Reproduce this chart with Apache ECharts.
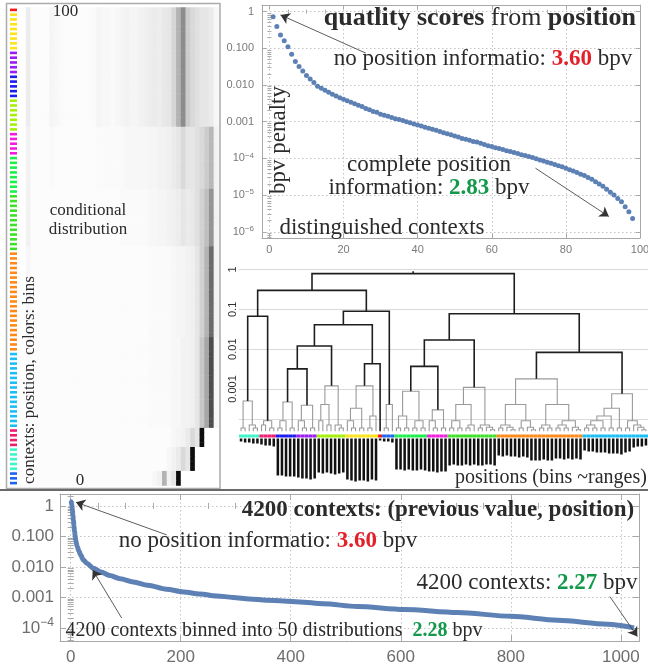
<!DOCTYPE html>
<html><head><meta charset="utf-8"><title>quality scores</title>
<script src="https://cdn.jsdelivr.net/npm/echarts@6.0.0/dist/echarts.min.js"></script>
<style>html,body{margin:0;padding:0;background:#fff;}#chart{width:648px;height:668px;}</style>
</head><body><div id="chart"></div>
<script>
// ================= DATA =================
// top-right: bpv penalty vs number of distinguished contexts (1..98)
const positionPenalty = [0.72,0.39,0.23,0.16,0.11,0.069,0.044,0.032,0.024,0.018,
 0.0145,0.0117,0.0093,0.0081,0.0072,0.0063,0.0056,0.0050,0.0045,0.0041,
 0.0037,0.0034,0.0031,0.0028,0.0026,0.0023,0.0021,0.0019,0.0018,0.0016,
 0.0015,0.0014,0.0013,0.0012,0.00115,0.00107,0.0010,0.00093,0.00087,0.00081,
 0.00076,0.00071,0.00066,0.00062,0.00058,0.00054,0.00050,0.00047,0.00044,0.00041,
 0.00038,0.00035,0.00033,0.00031,0.00029,0.00028,0.00026,0.00024,0.00022,0.00021,
 0.000195,0.000186,0.000174,0.000162,0.000155,0.000145,0.000135,0.000126,0.00012,0.000112,
 0.000105,0.000098,0.000091,0.000085,0.000079,0.000074,0.000068,0.000063,0.000059,0.000054,
 0.000049,0.000045,0.000041,0.000037,0.000034,0.000030,0.000027,0.000023,0.000020,0.0000174,
 0.0000145,0.000012,0.0000100,0.0000081,0.0000066,0.0000048,0.0000035,0.0000023];

// bottom: 4200 contexts (previous value, position) - sampled readings
const ctxCount = [1,2,3,4,5,6,7,8,9,10,12,15,18,23,30,41,55,71,90,114,140,174,205,235,265,295,325,356,386,416,459,521,606,703,800,885,976,1024];
const ctxPenalty = [1.41,1.12,0.76,0.50,0.33,0.22,0.15,0.107,0.079,0.063,0.046,0.033,0.025,0.017,0.0129,0.0091,0.0068,0.0052,0.0041,0.0032,0.0025,0.00186,0.00151,0.00129,0.00112,0.00100,0.00089,0.00081,0.00076,0.00071,0.00062,0.00050,0.00040,0.00032,0.00024,0.000178,0.000132,0.000100];

// tick labels (log10 for log panels)
const topXTicks = [0,20,40,60,80,100];
const topYTicks = [-6,-5,-4,-3,-2,-1,0];
const bottomXTicks = [0,200,400,600,800,1000];
const bottomYTicks = [-4,-3,-2,-1,0];
const dendroYTicks = [0,-1,-2,-3];
const dendroGridLines = [0,-1,-2,-3,-3.75];

// bins (colours), in order of position 100 -> 1
const binOrderByPosition = ['red','yellow','purple','blue','yellowgreen','magenta','greenA','greenB','orange','cyan','crimson','teal','blue2'];
const binSizes = [1,8,5,5,7,5,8,12,21,16,4,5,3];
const binColors = {red:'#f01a1a', yellow:'#ffe21a', purple:'#9b1cf5', blue:'#1c1cf0', yellowgreen:'#a4f00a',
  magenta:'#f51ce0', greenA:'#1cf04a', greenB:'#3ee02a', orange:'#ff8a1a', cyan:'#1cbef5',
  crimson:'#f01c6e', teal:'#3cf5c8', blue2:'#1c64f0'};

// conditional distribution (rows = positions top->bottom, 41 value columns), darkness 0..1
const heatTop  = [0.07,0.01,0.01,0.01,0.01,0.04,0.03,0.02,0.01,0.01, 0.01,0.01,0.01,0.01,0.02,0.04,0.03,0.03,0.02,0.03, 0.04,0.05,0.04,0.04,0.05,0.06,0.07,0.08,0.07,0.09, 0.10,0.16,0.30,0.45,0.20,0.15,0.12,0.10,0.10,0.08, 0.03];
const heatMid1 = [0.05,0.01,0.01,0.01,0.01,0.02,0.01,0.01,0.01,0.01, 0.01,0.01,0.01,0.01,0.01,0.02,0.02,0.02,0.02,0.02, 0.02,0.03,0.03,0.03,0.03,0.03,0.04,0.04,0.05,0.05, 0.06,0.08,0.10,0.15,0.10,0.10,0.12,0.15,0.20,0.28, 0.05];
const heatMid2 = [0.05,0.01,0.01,0.01,0.01,0.01,0.01,0.01,0.01,0.01, 0.01,0.01,0.01,0.01,0.01,0.01,0.01,0.01,0.01,0.01, 0.02,0.02,0.02,0.02,0.02,0.02,0.03,0.03,0.04,0.04, 0.05,0.06,0.07,0.10,0.08,0.09,0.12,0.18,0.25,0.42, 0.05];
const heatLow1 = [0.03,0.01,0.01,0.01,0.01,0.01,0.01,0.01,0.01,0.01, 0.01,0.01,0.01,0.01,0.01,0.01,0.01,0.01,0.01,0.01, 0.01,0.01,0.01,0.01,0.01,0.01,0.02,0.02,0.02,0.02, 0.02,0.03,0.04,0.04,0.05,0.06,0.10,0.18,0.30,0.58, 0.05];
const heatLow2 = [0.02,0.01,0.01,0.01,0.01,0.01,0.01,0.01,0.01,0.01, 0.01,0.01,0.01,0.01,0.01,0.01,0.01,0.01,0.01,0.01, 0.01,0.01,0.01,0.01,0.01,0.01,0.02,0.02,0.02,0.02, 0.02,0.03,0.03,0.05,0.05,0.06,0.10,0.22,0.35,0.70, 0.03];
const heatS1   = [0.01,0.01,0.01,0.01,0.01,0.01,0.01,0.01,0.01,0.01, 0.01,0.01,0.01,0.01,0.01,0.01,0.01,0.01,0.01,0.01, 0.01,0.01,0.01,0.01,0.01,0.01,0.01,0.01,0.01,0.01, 0.01,0.03,0.04,0.05,0.08,0.15,0.10,0.95,0,0, 0];
const heatS2   = [0.01,0.01,0.01,0.01,0.01,0.01,0.01,0.01,0.01,0.01, 0.01,0.01,0.01,0.01,0.01,0.01,0.01,0.01,0.01,0.01, 0.01,0.01,0.01,0.01,0.01,0.01,0.01,0.01,0.01,0.01, 0.03,0.05,0.08,0.15,0.10,0.95,0,0,0,0, 0];
const heatS3   = [0.01,0.01,0.01,0.01,0.01,0.01,0.01,0.01,0.01,0.01, 0.01,0.01,0.01,0.01,0.01,0.01,0.01,0.01,0.01,0.01, 0.01,0.01,0.01,0.01,0.01,0.01,0.01,0.03,0.05,0.30, 0.05,0.10,0.95,0,0,0,0,0,0,0, 0];
const heatRowGroups = [[0,24,heatTop],[25,37,heatMid1],[38,49,heatMid2],[50,68,heatLow1],[69,87,heatLow2],[88,91,heatS1],[92,96,heatS2],[97,99,heatS3]];

// dendrogram: nodes [mergeHeight, left, right], leaf = 0, clusters referenced by bin name
const leafHeight = 8.7e-5;
const clusterTrees = {
 teal: [5.0e-4, [1.05e-4,0,0], [1.25e-4,0,[1.05e-4,0,0]]],
 crimson: [1.6e-4, [1.25e-4,0,0], [1.05e-4,0,0]],
 blue: [4.7e-4, [1.6e-4,[1.05e-4,0,0],0], [1.05e-4,0,0]],
 purple: [3.9e-4, [1.6e-4,0,[1.05e-4,0,0]], [1.05e-4,0,0]],
 yellowgreen: [1.2e-3, [4.1e-4,[1.6e-4,0,0],[1.25e-4,0,0]], [1.25e-4,0,[1.05e-4,0,0]]],
 yellow: [1.2e-3, [3.3e-4,[1.6e-4,0,[1.05e-4,0,0]],[1.05e-4,0,0]], [2.1e-4,[1.05e-4,0,0],0]],
 red: 0,
 blue2: [4.1e-4, [1.05e-4,0,0], 0],
 greenA: [8.8e-4, [2.1e-4,[1.05e-4,0,0],[1.05e-4,0,0]], [1.6e-4,[1.05e-4,0,0],[1.05e-4,0,0]]],
 magenta: [3.0e-4, [1.6e-4,0,[1.05e-4,0,0]], [1.05e-4,0,0]],
 greenB: [1.1e-3, [4.1e-4,[1.6e-4,[1.05e-4,0,0],[1.05e-4,0,0]],[1.25e-4,[1.05e-4,0,0],0]], [1.25e-4,[1.05e-4,0,0],[1.1e-4,0,[9.5e-5,0,0]]]],
 orange: [1.8e-3, [4.1e-4,[1.25e-4,[1.05e-4,0,0],[1.1e-4,0,[9.5e-5,0,0]]],[1.6e-4,[1.05e-4,0,0],[1.1e-4,0,[9.5e-5,0,0]]]],
                  [4.1e-4,[1.25e-4,[1.05e-4,0,0],[1.05e-4,0,0]],[1.6e-4,[1.25e-4,[1.05e-4,0,0],[1.05e-4,0,0]],[1.1e-4,0,[9.5e-5,0,0]]]]],
 cyan: [7.6e-4, [3.3e-4,[2.1e-4,[1.6e-4,[1.25e-4,[1.05e-4,0,0],[1.05e-4,0,0]],[1.05e-4,0,0]],[1.05e-4,0,0]],[1.05e-4,0,0]],
                [1.6e-4,[1.05e-4,0,0],[1.25e-4,0,[1.1e-4,0,[9.5e-5,0,0]]]]]
};
const upperTree = [0.79,
  [0.30, [0.067,'teal','crimson'], [0.09, [0.041, [0.012, [0.0032,'blue','purple'], 'yellowgreen'], [0.0043,'yellow','red']], 'blue2']],
  [0.078, [0.017, [0.0037,'greenA','magenta'], 'greenB'], [0.0083,'orange','cyan']]];
// bar below each leaf (dendrogram order)
const leafMass = [3,4,4,5,5, 6,7,7,8, 37,37,38,38,38, 39,40,40,41,40, 34,35,34,35,36,35,34, 41,42,43,42,42,43,41,42, 2, 3,3,4,
  31,31,32,31,32,32,31,32, 33,33,34,33,33, 27,26,27,27,26,27,26,27,27,26,26,27,
  17,18,17,18,18,19,18,19,22,22,22,21,22,22,20,20,21,20,21,20,21,
  12,13,13,14,14,14,15,15,15,16,14,13,9,8,8,7];

// annotation arrows [x, penalty]
const topArrows = [{from:[26,0.074], to:[3,0.81]}, {from:[71.8,5.4e-5], to:[91.6,2.6e-6]}];
const bottomArrows = [{from:[174.5,0.112], to:[9.6,1.32]}, {from:[92.7,2.1e-4], to:[40,7.9e-3]}, {from:[980,1.07e-3], to:[1030,5.2e-5]}];

// ================= BUILD =================
const FRAME = '#a8a8a8', GRIDC = '#c4c4c4', BLUE = '#5e81b5', INK = '#2b2b2b';
const RED = '#e3202a', GREEN = '#12994a';
const serif = "'Liberation Serif','DejaVu Serif',serif";
const sans = "'Liberation Sans','DejaVu Sans',sans-serif";
const chart = echarts.init(document.getElementById('chart'));
const grid = [], xAxis = [], yAxis = [], series = [];
function addGrid(l,t,w,h){ grid.push({left:l, top:t, width:w, height:h, outerBoundsMode:'none', containLabel:false}); return grid.length-1; }
function addX(o){ xAxis.push(o); return xAxis.length-1; }
function addY(o){ yAxis.push(o); return yAxis.length-1; }
const hid = {axisLine:{show:false}, axisTick:{show:false}, axisLabel:{show:false}, splitLine:{show:false}};
const lg = Math.log10;
function logFmt(fixed3){ return v => { const e = Math.round(v); if (e === 0) return '1'; if (e >= -3) return Math.pow(10,e).toFixed(fixed3 ? 3 : -e); return '10{s|\u2212' + (-e) + '}'; }; }
function minorLog(lo, hi){ const out=[]; for(let n=Math.floor(lo)-1;n<=Math.ceil(hi);n++) for(let k=2;k<=9;k++){ const v=n+lg(k); if(v>lo && v<hi) out.push(v);} return out; }
function minorLin(lo, hi, step, major){ const out=[]; for(let v=Math.ceil(lo/step)*step; v<=hi; v+=step){ if (Math.abs(v/major - Math.round(v/major))>1e-6) out.push(v);} return out; }

function framedPlot(rect, xr, yr, xt, yt, xMin, yMin, o){
  const g = addGrid(...rect), gm = addGrid(...rect);
  const line = {show:true, onZero:false, lineStyle:{color:FRAME, width:1}};
  const tk = (vals, len) => ({show:true, inside:true, length:len, customValues:vals, lineStyle:{color:FRAME, width:1}});
  const dot = {show:true, lineStyle:{color:GRIDC, width:1, type:[1.5,2.5]}};
  const bx = addX({gridIndex:g, type:'value', min:xr[0], max:xr[1], position:'bottom', axisLine:line, axisTick:tk(xt,o.major),
    axisLabel:{show:true, customValues:xt, color:o.color, fontSize:o.size, fontFamily:sans, margin:o.xm, formatter:v=>String(v)}, splitLine:dot});
  addX({gridIndex:g, type:'value', min:xr[0], max:xr[1], position:'top', axisLine:line, axisTick:tk(xt,o.major), axisLabel:{show:false}, splitLine:{show:false}});
  const ly = addY({gridIndex:g, type:'value', min:yr[0], max:yr[1], position:'left', axisLine:line, axisTick:tk(yt,o.major),
    axisLabel:{show:true, customValues:yt, color:o.color, fontSize:o.size, fontFamily:sans, margin:o.ym, formatter:logFmt(true),
      rich:{s:{fontSize:Math.round(o.size*0.7), fontFamily:sans, color:o.color, verticalAlign:'top', lineHeight:Math.round(o.size*1.3)}}}, splitLine:dot});
  addY({gridIndex:g, type:'value', min:yr[0], max:yr[1], position:'right', axisLine:line, axisTick:tk(yt,o.major), axisLabel:{show:false}, splitLine:{show:false}});
  addX({gridIndex:gm, type:'value', min:xr[0], max:xr[1], position:'bottom', axisLine:{show:false}, axisTick:tk(xMin,o.minor), axisLabel:{show:false}, splitLine:{show:false}});
  addX({gridIndex:gm, type:'value', min:xr[0], max:xr[1], position:'top', axisLine:{show:false}, axisTick:tk(xMin,o.minor), axisLabel:{show:false}, splitLine:{show:false}});
  addY({gridIndex:gm, type:'value', min:yr[0], max:yr[1], position:'left', axisLine:{show:false}, axisTick:tk(yMin,o.minor), axisLabel:{show:false}, splitLine:{show:false}});
  addY({gridIndex:gm, type:'value', min:yr[0], max:yr[1], position:'right', axisLine:{show:false}, axisTick:tk(yMin,o.minor), axisLabel:{show:false}, splitLine:{show:false}});
  return {x:bx, y:ly};
}
function arrowLines(list){
  return {silent:true, animation:false, symbol:['none','arrow'], symbolSize:9, label:{show:false}, emphasis:{disabled:true},
    lineStyle:{color:'#333', width:0.8, type:'solid'},
    data:list.map(a => [{coord:[a.from[0], lg(a.from[1])]}, {coord:[a.to[0], lg(a.to[1])]}])};
}

// ---- top-right panel ----
const TR = framedPlot([262,5,378,233], [-2,100], [-6.17,0.18], topXTicks, topYTicks,
  minorLin(-2,100,5,20), minorLog(-6.17,0.18), {major:4, minor:2, color:'#7a7a7a', size:11, xm:6, ym:8});
series.push({type:'scatter', xAxisIndex:TR.x, yAxisIndex:TR.y, symbolSize:5, itemStyle:{color:BLUE, opacity:1},
  data: positionPenalty.map((v,i)=>[i+1, lg(v)]), markLine: arrowLines(topArrows), z:3});

// ---- bottom panel ----
const BT = framedPlot([60,494,579,147.3], [-19.4,1033], [-4.44,0.39], bottomXTicks, bottomYTicks,
  minorLin(-19.4,1033,50,200), minorLog(-4.44,0.39), {major:6, minor:3, color:'#6e6e6e', size:17, xm:8, ym:6});
series.push({type:'line', xAxisIndex:BT.x, yAxisIndex:BT.y, showSymbol:false, smooth:0.3, smoothMonotone:'x',
  lineStyle:{color:BLUE, width:5}, data: ctxCount.map((c,i)=>[c, lg(ctxPenalty[i])]), markLine: arrowLines(bottomArrows), z:3});
series.push({type:'scatter', xAxisIndex:BT.x, yAxisIndex:BT.y, symbolSize:4, itemStyle:{color:BLUE, opacity:1},
  data: ctxCount.slice(0,10).map((c,i)=>[c, lg(ctxPenalty[i])]), z:4});

// ---- dendrogram ----
const blackLinks = [], grayLinks = [], leafBins = [];
let cursor = 0;
function place(node, bin, black){
  if (typeof node === 'string') return place(clusterTrees[node], node, false);
  if (node === 0){ const x = cursor + 0.5; cursor++; leafBins.push(bin); return {x:x, h:leafHeight}; }
  const A = place(node[1], bin, black), B = place(node[2], bin, black);
  const y = lg(node[0]);
  (black ? blackLinks : grayLinks).push([[A.x, lg(A.h)], [A.x, y], [B.x, y], [B.x, lg(B.h)]]);
  return {x:(A.x+B.x)/2, h:node[0]};
}
const root = place(upperTree, null, true);
blackLinks.push([[root.x, lg(root.h)], [root.x, lg(root.h)+0.06]]);
const gD = addGrid(239,262,409,172);
const dX = addX(Object.assign({gridIndex:gD, type:'value', min:0, max:100}, hid));
const dY = addY({gridIndex:gD, type:'value', min:-4.13, max:0.19, position:'left', axisLine:{show:false},
  axisTick:{show:false, customValues:dendroGridLines},
  axisLabel:{show:true, customValues:dendroYTicks, rotate:90, margin:1, fontSize:11, color:'#333', fontFamily:sans, formatter:logFmt(false)},
  splitLine:{show:true, lineStyle:{color:'#dadada', width:1}}});
series.push({type:'lines', coordinateSystem:'cartesian2d', xAxisIndex:dX, yAxisIndex:dY, polyline:true, silent:true,
  lineStyle:{color:'#9a9a9a', width:1.1, opacity:1}, data: grayLinks.map(p=>({coords:p})), z:3});
series.push({type:'lines', coordinateSystem:'cartesian2d', xAxisIndex:dX, yAxisIndex:dY, polyline:true, silent:true,
  lineStyle:{color:'#1e1e1e', width:1.6, opacity:1}, data: blackLinks.map(p=>({coords:p})), z:4});
const leafCats = leafBins.map((b,i)=>String(i));
const gS = addGrid(239,434.5,409,3);
const sX = addX(Object.assign({gridIndex:gS, type:'category', data:leafCats}, hid));
const sY = addY(Object.assign({gridIndex:gS, type:'value', min:0, max:1}, hid));
series.push({type:'bar', xAxisIndex:sX, yAxisIndex:sY, barWidth:'100%', silent:true,
  data: leafBins.map(b=>({value:1, itemStyle:{color:binColors[b]}}))});
const gB = addGrid(239,438.5,409,45);
const bX = addX(Object.assign({gridIndex:gB, type:'category', data:leafCats}, hid));
const bY = addY(Object.assign({gridIndex:gB, type:'value', min:0, max:45, inverse:true}, hid));
series.push({type:'bar', xAxisIndex:bX, yAxisIndex:bY, barWidth:'62%', silent:true, itemStyle:{color:'#111'}, data: leafMass});

// ---- left panel: conditional distribution ----
const rowCats = [], rowBin = [];
binOrderByPosition.forEach((b,k)=>{ for(let j=0;j<binSizes[k];j++){ rowBin.push(b); rowCats.push(String(rowCats.length)); } });
const colCats = heatTop.map((_,i)=>String(i));
const heatData = [];
heatRowGroups.forEach(([r0,r1,prof])=>{ for(let r=r0;r<=r1;r++) prof.forEach((v,c)=>heatData.push([c, r, v])); });
const gH = addGrid(26,7.5,192.6,478);
const hX = addX(Object.assign({gridIndex:gH, type:'category', data:colCats}, hid));
const hY = addY(Object.assign({gridIndex:gH, type:'category', data:rowCats, inverse:true}, hid));
const heatIndex = series.length;
series.push({type:'heatmap', xAxisIndex:hX, yAxisIndex:hY, data:heatData, silent:true, itemStyle:{borderWidth:0}, progressive:0});
const gT = addGrid(10,7.5,7,478);
const tX = addX(Object.assign({gridIndex:gT, type:'category', data:['c']}, hid));
const tY = addY(Object.assign({gridIndex:gT, type:'category', data:rowCats, inverse:true}, hid));
series.push({type:'scatter', xAxisIndex:tX, yAxisIndex:tY, symbol:'rect', symbolSize:[7,2.6], silent:true,
  data: rowBin.map((b,r)=>({value:[0,r], itemStyle:{color:binColors[b], opacity:1}}))});

// ---- text & frame decorations ----
function T(x, y, text, size, extra){
  const rich = {b:{fontSize:size, fontFamily:serif, fontWeight:'bold', fill:INK}, n:{fontSize:size, fontFamily:serif, fill:INK},
                r:{fontSize:size, fontFamily:serif, fontWeight:'bold', fill:RED}, g:{fontSize:size, fontFamily:serif, fontWeight:'bold', fill:GREEN}};
  return Object.assign({type:'text', x:x, y:y, z:100, silent:true,
    style:Object.assign({text:text, fontSize:size, fontFamily:serif, fill:INK, align:'center', verticalAlign:'middle', rich:rich}, extra && extra.style)},
    extra && extra.el);
}
const graphic = [
  {type:'rect', shape:{x:6.5, y:3.5, width:213.5, height:485}, style:{fill:'none', stroke:'#ababab', lineWidth:1.5}, z:50, silent:true},
  {type:'line', shape:{x1:0, y1:490, x2:648, y2:490}, style:{stroke:'#6a6a6a', lineWidth:2}, z:50, silent:true},
  T(636, 18, '{b|quatlity scores}{n| from }{b|position}', 26, {style:{align:'right'}}),
  T(483, 59, 'no position informatio: {r|3.60} bpv', 23),
  T(429, 165, 'complete position', 23),
  T(429, 188, 'information: {g|2.83} bpv', 23),
  T(382, 228, 'distinguished contexts', 23),
  T(279, 140, 'bpv penalty', 23, {el:{rotation:Math.PI/2}}),
  T(438, 510, '4200 contexts: (previous value, position)', 23, {style:{fontWeight:'bold'}}),
  T(268, 541, 'no position informatio: {r|3.60} bpv', 23),
  T(527, 583, '4200 contexts: {g|2.27} bpv', 23),
  T(274, 631, '4200 contexts binned into 50 distributions  {g|2.28} bpv', 20),
  T(65.5, 12, '100', 17),
  T(80, 481, '0', 17),
  T(88, 211, 'conditional', 17),
  T(88, 230, 'distribution', 17),
  T(30, 380, 'contexts: position, colors: bins', 17, {el:{rotation:Math.PI/2}}),
  T(455, 478, 'positions (bins ~ranges)', 20, {style:{align:'left'}})
];
graphic[11].style.rich.g.fontSize = 20;

chart.setOption({
  animation:false,
  textStyle:{fontFamily:sans},
  grid:grid, xAxis:xAxis, yAxis:yAxis,
  visualMap:{show:false, type:'continuous', min:0, max:1, seriesIndex:heatIndex, dimension:2, inRange:{color:['#ffffff','#000000']}},
  series:series,
  graphic:graphic
});
</script></body></html>
